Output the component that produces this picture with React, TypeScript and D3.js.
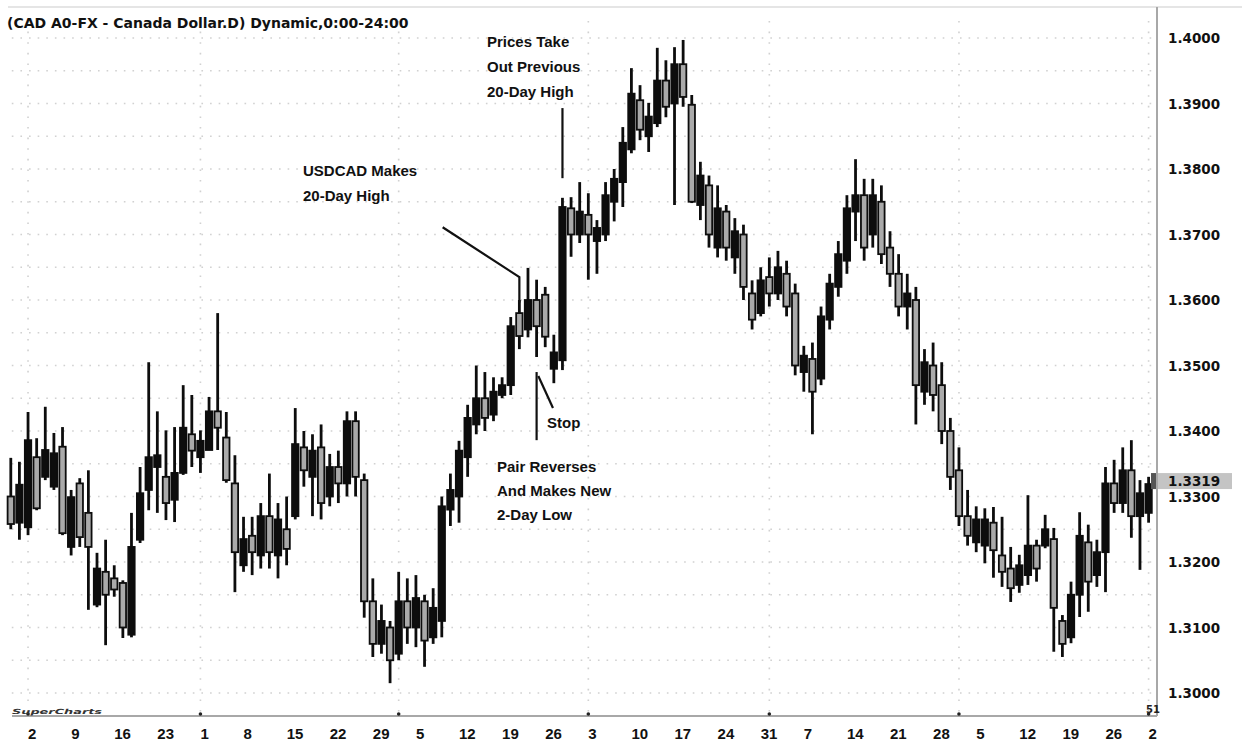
import React, { useEffect, useRef } from 'react';
import * as d3 from 'd3';

// daily bars, USD/CAD (index 0 = first bar on the chart)
const opens = [
  1.3300, 1.3260, 1.3253, 1.3360, 1.3330, 1.3315, 1.3376, 1.3223, 1.3320, 1.3275,
  1.3135, 1.3185, 1.3175, 1.3168, 1.3089, 1.3234, 1.3310, 1.3345, 1.3330, 1.3295,
  1.3336, 1.3395, 1.3360, 1.3371, 1.3430, 1.3390, 1.3320, 1.3195, 1.3240, 1.3210,
  1.3270, 1.3210, 1.3250, 1.3270, 1.3375, 1.3330, 1.3375, 1.3300, 1.3345, 1.3320,
  1.3415, 1.3325, 1.3140, 1.3075, 1.3100, 1.3060, 1.3140, 1.3100, 1.3140, 1.3085,
  1.3110, 1.3280, 1.3300, 1.3360, 1.3410, 1.3450, 1.3425, 1.3455, 1.3470, 1.3580,
  1.3555, 1.3600, 1.3608, 1.3495, 1.3508, 1.3740, 1.3700, 1.3730, 1.3690, 1.3700,
  1.3750, 1.3780, 1.3830, 1.3905, 1.3850, 1.3870, 1.3935, 1.3900, 1.3960, 1.3898,
  1.3745, 1.3775, 1.3680, 1.3735, 1.3665, 1.3700, 1.3610, 1.3580, 1.3635, 1.3610,
  1.3640, 1.3610, 1.3490, 1.3510, 1.3480, 1.3570, 1.3620, 1.3660, 1.3735, 1.3760,
  1.3700, 1.3750, 1.3680, 1.3640, 1.3590, 1.3600, 1.3460, 1.3500, 1.3470, 1.3400,
  1.3340, 1.3270, 1.3230, 1.3225, 1.3260, 1.3210, 1.3190, 1.3165, 1.3180, 1.3225,
  1.3225, 1.3235, 1.3110, 1.3085, 1.3150, 1.3230, 1.3180, 1.3215, 1.3320, 1.3290,
  1.3340, 1.3270, 1.3275,
];
const highs = [
  1.3359, 1.3353, 1.3429, 1.3389, 1.3437, 1.3397, 1.3406, 1.3310, 1.3328, 1.3340,
  1.3214, 1.3234, 1.3195, 1.3172, 1.3275, 1.3345, 1.3505, 1.3430, 1.3401, 1.3406,
  1.3470, 1.3455, 1.3401, 1.3452, 1.3580, 1.3429, 1.3363, 1.3269, 1.3269, 1.3290,
  1.3335, 1.3290, 1.3300, 1.3435, 1.3400, 1.3395, 1.3410, 1.3365, 1.3370, 1.3430,
  1.3430, 1.3335, 1.3175, 1.3135, 1.3110, 1.3185, 1.3175, 1.3180, 1.3150, 1.3160,
  1.3300, 1.3335, 1.3385, 1.3440, 1.3500, 1.3490, 1.3482, 1.3482, 1.3574, 1.3600,
  1.3649, 1.3631, 1.3620, 1.3547, 1.3756, 1.3757, 1.3780, 1.3763, 1.3722, 1.3780,
  1.3800, 1.3864, 1.3954, 1.3928, 1.3901, 1.3985, 1.3966, 1.3986, 1.3997, 1.3913,
  1.3811, 1.3790, 1.3775, 1.3745, 1.3725, 1.3715, 1.3630, 1.3650, 1.3665, 1.3675,
  1.3660, 1.3625, 1.3530, 1.3535, 1.3590, 1.3640, 1.3690, 1.3760, 1.3815, 1.3785,
  1.3785, 1.3775, 1.3705, 1.3670, 1.3640, 1.3620, 1.3525, 1.3535, 1.3505, 1.3420,
  1.3375, 1.3310, 1.3285, 1.3282, 1.3284, 1.3269, 1.3223, 1.3211, 1.3302, 1.3234,
  1.3272, 1.3252, 1.3119, 1.3170, 1.3276, 1.3257, 1.3234, 1.3345, 1.3356, 1.3375,
  1.3386, 1.3325, 1.3330,
];
const lows = [
  1.3250, 1.3234, 1.3241, 1.3279, 1.3325, 1.3310, 1.3241, 1.3210, 1.3223, 1.3127,
  1.3131, 1.3073, 1.3147, 1.3084, 1.3085, 1.3229, 1.3279, 1.3275, 1.3264, 1.3261,
  1.3333, 1.3345, 1.3336, 1.3371, 1.3371, 1.3321, 1.3154, 1.3185, 1.3180, 1.3190,
  1.3190, 1.3175, 1.3195, 1.3265, 1.3315, 1.3270, 1.3265, 1.3285, 1.3290, 1.3300,
  1.3300, 1.3115, 1.3055, 1.3060, 1.3015, 1.3050, 1.3075, 1.3070, 1.3040, 1.3075,
  1.3085, 1.3255, 1.3260, 1.3330, 1.3395, 1.3400, 1.3415, 1.3450, 1.3455, 1.3525,
  1.3543, 1.3513, 1.3528, 1.3473, 1.3493, 1.3666, 1.3687, 1.3631, 1.3640, 1.3690,
  1.3720, 1.3742, 1.3824, 1.3844, 1.3826, 1.3864, 1.3879, 1.3745, 1.3895, 1.3748,
  1.3722, 1.3680, 1.3665, 1.3660, 1.3640, 1.3600, 1.3555, 1.3575, 1.3590, 1.3600,
  1.3575, 1.3485, 1.3460, 1.3395, 1.3470, 1.3555, 1.3605, 1.3640, 1.3690, 1.3660,
  1.3680, 1.3655, 1.3620, 1.3575, 1.3555, 1.3410, 1.3440, 1.3430, 1.3380, 1.3310,
  1.3255, 1.3225, 1.3215, 1.3198, 1.3176, 1.3162, 1.3139, 1.3153, 1.3165, 1.3170,
  1.3221, 1.3063, 1.3055, 1.3076, 1.3116, 1.3124, 1.3162, 1.3154, 1.3275, 1.3275,
  1.3237, 1.3188, 1.3260,
];
const closes = [
  1.3258, 1.3318, 1.3386, 1.3282, 1.3371, 1.3366, 1.3244, 1.3299, 1.3238, 1.3223,
  1.3190, 1.3150, 1.3158, 1.3100, 1.3223, 1.3305, 1.3360, 1.3363, 1.3290, 1.3336,
  1.3405, 1.3370, 1.3385, 1.3430, 1.3405, 1.3325, 1.3215, 1.3235, 1.3215, 1.3270,
  1.3215, 1.3265, 1.3220, 1.3380, 1.3340, 1.3370, 1.3290, 1.3345, 1.3320, 1.3415,
  1.3330, 1.3140, 1.3075, 1.3110, 1.3050, 1.3140, 1.3100, 1.3145, 1.3080, 1.3130,
  1.3285, 1.3310, 1.3370, 1.3420, 1.3450, 1.3420, 1.3460, 1.3470, 1.3560, 1.3545,
  1.3600, 1.3560, 1.3544, 1.3520, 1.3742, 1.3700, 1.3735, 1.3700, 1.3710, 1.3760,
  1.3785, 1.3840, 1.3915, 1.3860, 1.3880, 1.3935, 1.3895, 1.3960, 1.3910, 1.3750,
  1.3790, 1.3700, 1.3740, 1.3680, 1.3705, 1.3620, 1.3570, 1.3630, 1.3610, 1.3650,
  1.3590, 1.3500, 1.3515, 1.3460, 1.3575, 1.3625, 1.3670, 1.3740, 1.3760, 1.3680,
  1.3760, 1.3670, 1.3640, 1.3590, 1.3610, 1.3470, 1.3505, 1.3455, 1.3400, 1.3330,
  1.3270, 1.3240, 1.3265, 1.3265, 1.3218, 1.3185, 1.3160, 1.3195, 1.3225, 1.3190,
  1.3250, 1.3130, 1.3075, 1.3150, 1.3240, 1.3170, 1.3215, 1.3320, 1.3290, 1.3340,
  1.3270, 1.3305, 1.3319,
];

// weekly date labels, first one sits on bar 2, then every 5 bars
const weekLabels = ['2', '9', '16', '23', '1', '8', '15', '22', '29', '5', '12', '19', '26', '3',
  '10', '17', '24', '31', '7', '14', '21', '28', '5', '12', '19', '26', '2'];
const weekBars = weekLabels.map((_, i) => 2 + i * 5);
// bars where a new month starts
const monthBars = [2, 22, 45, 67, 88, 110, 132];

const priceTicks = [1.30, 1.31, 1.32, 1.33, 1.34, 1.35, 1.36, 1.37, 1.38, 1.39, 1.40];
const gridPrices = d3.range(1.2950, 1.4051, 0.005);
const lastPrice = 1.3319;

const chartTitle = '(CAD A0-FX - Canada Dollar.D) Dynamic,0:00-24:00';

const App: React.FC = () => {
  const svgRef = useRef<SVGSVGElement>(null);

  useEffect(() => {
    document.body.style.margin = '0';
    if (!svgRef.current) return;
    const svg = d3.select(svgRef.current);
    svg.selectAll('*').remove();

    const width = 1242;
    const height = 741;
    const plotRight = 1157;
    const plotBottom = 716;
    const plotTop = 7;

    const x = d3.scaleLinear().domain([0, opens.length - 1]).range([10.8, 1148.6]);
    const y = d3.scaleLinear().domain([1.30, 1.40]).range([693, 38]);
    const step = x(1) - x(0);

    svg.attr('width', width).attr('height', height);
    svg.append('rect').attr('width', width).attr('height', height).attr('fill', '#fff');

    // dotted grid, faint like the original
    const grid = svg.append('g').attr('stroke', '#9a9a9a').attr('stroke-width', 1.6);
    grid.selectAll('line.h')
      .data(gridPrices.filter(p => y(p) > plotTop + 20 && y(p) < plotBottom - 4))
      .enter()
      .append('line')
      .attr('x1', x(0) + 1)
      .attr('x2', plotRight - 4)
      .attr('y1', d => y(d))
      .attr('y2', d => y(d))
      .attr('stroke-dasharray', `1.6 ${step - 1.6}`)
      .attr('opacity', 0.45);
    grid.selectAll('line.m')
      .data(monthBars)
      .enter()
      .append('line')
      .attr('x1', d => x(d))
      .attr('x2', d => x(d))
      .attr('y1', plotTop + 14)
      .attr('y2', plotBottom - 4)
      .attr('stroke-dasharray', '1.6 9')
      .attr('opacity', 0.45);

    // top rule
    svg.append('line')
      .attr('x1', 8).attr('x2', width)
      .attr('y1', plotTop).attr('y2', plotTop)
      .attr('stroke', '#cccccc').attr('stroke-width', 1.2);

    // axes lines
    svg.append('line')
      .attr('x1', 12).attr('x2', plotRight)
      .attr('y1', plotBottom).attr('y2', plotBottom)
      .attr('stroke', '#a8a8a8').attr('stroke-width', 2);
    svg.append('line')
      .attr('x1', plotRight).attr('x2', plotRight)
      .attr('y1', plotTop).attr('y2', plotBottom)
      .attr('stroke', '#a8a8a8').attr('stroke-width', 2);

    // month markers on the time axis
    svg.selectAll('circle.month')
      .data(monthBars)
      .enter()
      .append('circle')
      .attr('cx', d => x(d))
      .attr('cy', plotBottom - 2)
      .attr('r', 1.8)
      .attr('fill', '#222');

    // candles
    const bars = d3.range(opens.length);
    const candles = svg.append('g');
    candles.selectAll('line.wick')
      .data(bars)
      .enter()
      .append('line')
      .attr('x1', i => x(i))
      .attr('x2', i => x(i))
      .attr('y1', i => y(highs[i]))
      .attr('y2', i => y(lows[i]))
      .attr('stroke', '#0d0d0d')
      .attr('stroke-width', 2.8);
    const bodyW = 6.4;
    candles.selectAll('rect.body')
      .data(bars)
      .enter()
      .append('rect')
      .attr('x', i => x(i) - bodyW / 2)
      .attr('y', i => y(Math.max(opens[i], closes[i])))
      .attr('width', bodyW)
      .attr('height', i => Math.max(1.5, Math.abs(y(opens[i]) - y(closes[i]))))
      .attr('fill', i => (closes[i] >= opens[i] ? '#0d0d0d' : '#aaaaaa'))
      .attr('stroke', '#0d0d0d')
      .attr('stroke-width', 1.8);

    // price axis labels
    svg.append('g')
      .selectAll('text')
      .data(priceTicks)
      .enter()
      .append('text')
      .attr('x', 1168)
      .attr('y', d => y(d) + 5)
      .attr('font-family', 'DejaVu Sans, sans-serif')
      .attr('font-weight', 'bold')
      .attr('font-size', 13.5)
      .attr('fill', '#111')
      .text(d => d3.format('.4f')(d));

    // last price marker (sits over the 1.3300 label, as in the original)
    const lp = svg.append('g');
    lp.append('rect')
      .attr('x', plotRight + 1)
      .attr('y', y(lastPrice) - 11)
      .attr('width', 74)
      .attr('height', 16)
      .attr('fill', '#c4c4c4');
    lp.append('rect')
      .attr('x', plotRight - 6)
      .attr('y', y(lastPrice) - 11)
      .attr('width', 5)
      .attr('height', 16)
      .attr('fill', '#555');
    lp.append('text')
      .attr('x', 1168)
      .attr('y', y(lastPrice) + 2)
      .attr('font-family', 'DejaVu Sans, sans-serif')
      .attr('font-weight', 'bold')
      .attr('font-size', 13.5)
      .attr('fill', '#111')
      .text(d3.format('.4f')(lastPrice));

    // week labels
    svg.append('g')
      .selectAll('text')
      .data(weekLabels)
      .enter()
      .append('text')
      .attr('x', (_, i) => x(weekBars[i]))
      .attr('y', 739)
      .attr('font-family', 'Liberation Sans, Arial, sans-serif')
      .attr('font-weight', 'bold')
      .attr('font-size', 15)
      .attr('fill', '#111')
      .text(d => d);

    // title and small marks
    svg.append('text')
      .attr('x', 7)
      .attr('y', 28)
      .attr('font-family', 'DejaVu Sans, sans-serif')
      .attr('font-weight', 'bold')
      .attr('font-size', 14)
      .attr('fill', '#111')
      .text(chartTitle);
    svg.append('text')
      .attr('x', 12)
      .attr('y', 714)
      .attr('font-family', 'DejaVu Sans, sans-serif')
      .attr('font-weight', 'bold')
      .attr('font-style', 'italic')
      .attr('font-size', 7)
      .attr('fill', '#333')
      .attr('textLength', 90)
      .attr('lengthAdjust', 'spacingAndGlyphs')
      .text('SuperCharts');
    svg.append('text')
      .attr('x', 1146)
      .attr('y', 713)
      .attr('font-family', 'DejaVu Sans, sans-serif')
      .attr('font-weight', 'bold')
      .attr('font-size', 10)
      .attr('fill', '#222')
      .text('51');

    // annotations
    const note = svg.append('g')
      .attr('font-family', 'Liberation Sans, Arial, sans-serif')
      .attr('font-weight', 'bold')
      .attr('font-size', 15)
      .attr('fill', '#111');
    const lineStyle = (sel: d3.Selection<SVGPathElement, unknown, null, undefined>) =>
      sel.attr('fill', 'none').attr('stroke', '#111').attr('stroke-width', 2.2);

    const addLines = (left: number, top: number, lines: string[], gap: number) => {
      lines.forEach((t, k) => {
        note.append('text').attr('x', left).attr('y', top + k * gap).text(t);
      });
    };

    // USDCAD makes 20-day high
    addLines(303, 176, ['USDCAD Makes', '20-Day High'], 25);
    lineStyle(note.append('path')
      .attr('d', d3.line()([[x(50.1), y(1.3711)], [x(59), y(1.3635)], [x(59), y(1.3596)]]) as string));

    // prices take out previous 20-day high
    addLines(487, 47, ['Prices Take', 'Out Previous', '20-Day High'], 25);
    lineStyle(note.append('path')
      .attr('d', d3.line()([[x(64), y(1.3893)], [x(64), y(1.3786)]]) as string));

    // stop
    addLines(547, 428, ['Stop'], 25);
    lineStyle(note.append('path')
      .attr('d', d3.line()([[x(61.2), y(1.3484)], [x(62.9), y(1.3435)]]) as string));

    // pair reverses
    addLines(497, 472, ['Pair Reverses', 'And Makes New', '2-Day Low'], 24);
    lineStyle(note.append('path')
      .attr('d', d3.line()([[x(61), y(1.3490)], [x(61), y(1.3386)]]) as string));
  }, []);

  return (
    <div style={{ position: 'absolute', left: 0, top: 0, width: 1242, height: 741 }}>
      <svg ref={svgRef} style={{ display: 'block' }} />
    </div>
  );
};

export default App;
